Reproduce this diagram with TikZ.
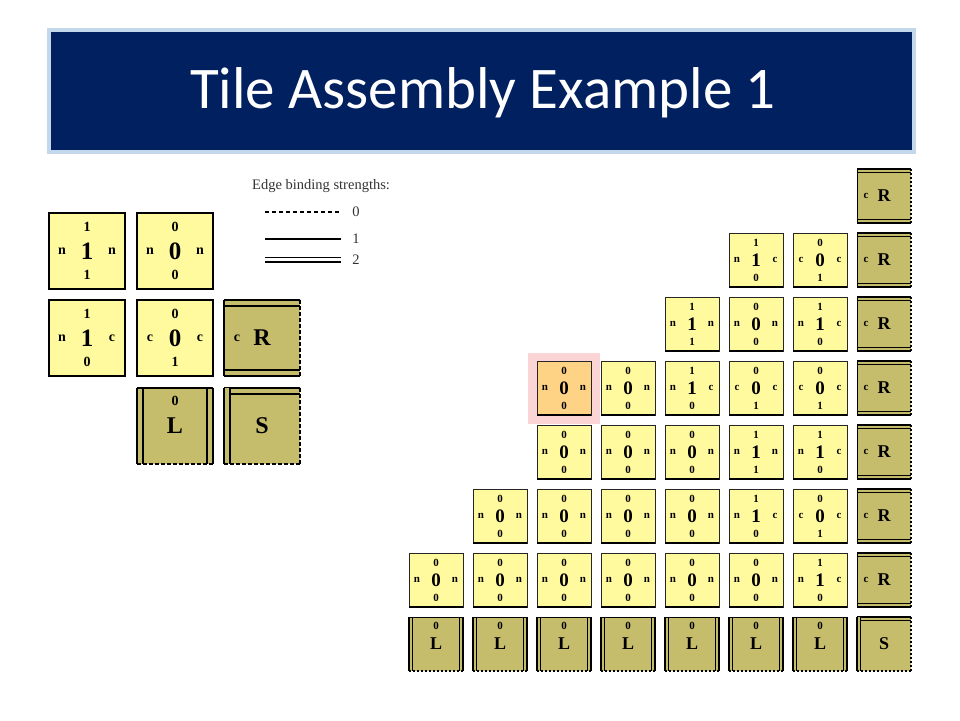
\documentclass[tikz,border=0pt]{standalone}
\usepackage{fontspec}
\setmainfont{Liberation Serif}
\newfontfamily\titlefont{Carlito}
\usetikzlibrary{calc}

\definecolor{navy}{HTML}{002060}
\definecolor{glow}{HTML}{C3D8EA}
\definecolor{tileyellow}{HTML}{FFFA9E}
\definecolor{seedolive}{HTML}{C5BD6C}
\definecolor{hiorange}{HTML}{FFD386}
\definecolor{hipink}{HTML}{FBD5D5}

\tikzset{
  bigtile/.style={minimum size=76pt, inner sep=0pt, outer sep=0pt, fill=tileyellow,
    draw, line width=2.4pt, font=\fontsize{25}{25}\selectfont\bfseries},
  bigseed/.style={minimum size=76pt, inner sep=0pt, outer sep=0pt, fill=seedolive,
    font=\fontsize{24}{24}\selectfont\bfseries},
  biglab/.style={inner sep=0pt, font=\fontsize{14}{14}\selectfont\bfseries},
  smalltile/.style={minimum size=54pt, inner sep=0pt, outer sep=0pt, fill=tileyellow,
    draw=black!85, line width=0.9pt, font=\fontsize{19}{19}\selectfont\bfseries},
  smallseed/.style={minimum size=54pt, inner sep=0pt, outer sep=0pt, fill=seedolive,
    font=\fontsize{18}{18}\selectfont\bfseries},
  smalllab/.style={inner sep=0pt, font=\fontsize{11}{11}\selectfont\bfseries},
  leglab/.style={inner sep=0pt, text=black!80, font=\fontsize{14.5}{14.5}\selectfont},
  strong/.style={line width=2.4pt},
  weak/.style={line width=2.4pt, dash pattern=on 3.5pt off 2.5pt},
  dbl/.style={double=seedolive, double distance=3.6pt, line width=2.4pt},
  sstrong/.style={line width=0.9pt},
  sweak/.style={line width=1.4pt, dash pattern=on 2pt off 2pt},
  sdbl/.style={double=seedolive, double distance=2.4pt, line width=1.3pt},
}

\begin{document}
\begin{tikzpicture}[x=1pt,y=-1pt]
  \useasboundingbox (0,0) rectangle (960,720);
  % title bar
  \node[fill=navy, draw=glow, line width=4pt, minimum width=865pt, minimum height=122pt,
    inner sep=0pt, anchor=north west] (bar) at (47,28) {};
  \node[anchor=base, text=white, font=\titlefont\fontsize{59}{59}\selectfont] %
    (title) at (483,108) {Tile Assembly Example 1};

  % tile set
  \foreach \nm/\x/\y/\tp/\lf/\rt/\bt in {one/87/251/1/n/n/1, zero/175/251/0/n/n/0,
      onec/87/338/1/n/c/0, zeroc/175/338/0/c/c/1}{
    \node[bigtile] (\nm) at (\x,\y) {\tp};
    \node[biglab] (\nm-t) at ([yshift=-14pt]\nm.north) {\tp};
    \node[biglab] (\nm-l) at ([xshift=13pt]\nm.west) {\lf};
    \node[biglab] (\nm-r) at ([xshift=-13pt]\nm.east) {\rt};
    \node[biglab] (\nm-b) at ([yshift=14pt]\nm.south) {\bt};
  }
  \node[bigseed] (R) at (262,338) {R};
  \node[biglab] (R-l) at ([xshift=13pt]R.west) {c};
  \draw[dbl] ([yshift=-3pt]R.north west) -- ([yshift=-3pt]R.north east);
  \draw[dbl] ([yshift=3pt]R.south west) -- ([yshift=3pt]R.south east);
  \draw[strong] (R.north west) -- (R.south west);
  \draw[weak] (R.north east) -- (R.south east);

  \node[bigseed] (L) at (175,426) {L};
  \node[biglab] (L-t) at ([yshift=-13pt]L.north) {0};
  \draw[dbl] ([xshift=3pt]L.north west) -- ([xshift=3pt]L.south west);
  \draw[dbl] ([xshift=-3pt]L.north east) -- ([xshift=-3pt]L.south east);
  \draw[strong] (L.north west) -- (L.north east);
  \draw[weak] (L.south west) -- (L.south east);

  \node[bigseed] (S) at (262,426) {S};
  \draw[dbl] ([yshift=-3pt]S.north west) -- ([yshift=-3pt]S.north east);
  \draw[dbl] ([xshift=3pt]S.north west) -- ([xshift=3pt]S.south west);
  \draw[weak] (S.north east) -- (S.south east);
  \draw[weak] (S.south west) -- (S.south east);

  % legend
  \node[leglab, anchor=west] (legend) at (252,186) {Edge binding strengths:};
  \node[leglab] (s0) at (356,212) {0};
  \node[leglab] (s1) at (356,239) {1};
  \node[leglab] (s2) at (356,260) {2};
  \draw[line width=1.4pt, dash pattern=on 4pt off 3pt] (265,212) -- (341,212);
  \draw[line width=1.6pt] (265,239) -- (341,239);
  \draw[double=white, double distance=3pt, line width=1.5pt] (265,259.5) -- (341,259.5);

  % assembly
  \node[fill=hipink, minimum width=72pt, minimum height=71pt, inner sep=0pt] (hl) at (564,388) {};
  \foreach \col/\row/\tp/\lf/\rt/\bt in {5/1/1/n/c/0, 6/1/0/c/c/1,
      4/2/1/n/n/1, 5/2/0/n/n/0, 6/2/1/n/c/0,
      3/3/0/n/n/0, 4/3/1/n/c/0, 5/3/0/c/c/1, 6/3/0/c/c/1,
      2/4/0/n/n/0, 3/4/0/n/n/0, 4/4/0/n/n/0, 5/4/1/n/n/1, 6/4/1/n/c/0,
      1/5/0/n/n/0, 2/5/0/n/n/0, 3/5/0/n/n/0, 4/5/0/n/n/0, 5/5/1/n/c/0, 6/5/0/c/c/1,
      0/6/0/n/n/0, 1/6/0/n/n/0, 2/6/0/n/n/0, 3/6/0/n/n/0, 4/6/0/n/n/0, 5/6/0/n/n/0,
      6/6/1/n/c/0}{
    \node[smalltile] (g\col\row) at ({436+64*\col},{196+64*\row}) {\tp};
    \node[smalllab] (g\col\row-t) at ([yshift=-10pt]g\col\row.north) {\tp};
    \node[smalllab] (g\col\row-l) at ([xshift=8pt]g\col\row.west) {\lf};
    \node[smalllab] (g\col\row-r) at ([xshift=-8pt]g\col\row.east) {\rt};
    \node[smalllab] (g\col\row-b) at ([yshift=9pt]g\col\row.south) {\bt};
    \draw[line width=2pt] (g\col\row.south west) -- (g\col\row.south east);
  }
  \node[smalltile, fill=hiorange] (g23) at (564,388) {0};
  \node[smalllab] (g23-t) at ([yshift=-10pt]g23.north) {0};
  \node[smalllab] (g23-l) at ([xshift=8pt]g23.west) {n};
  \node[smalllab] (g23-r) at ([xshift=-8pt]g23.east) {n};
  \node[smalllab] (g23-b) at ([yshift=9pt]g23.south) {0};
  \draw[line width=2pt] (g23.south west) -- (g23.south east);

  \foreach \row in {0,...,6}{
    \node[smallseed] (R\row) at (884,{196+64*\row}) {R};
    \node[smalllab] (R\row-l) at ([xshift=9pt]R\row.west) {c};
    \draw[sdbl] ([yshift=-1.9pt]R\row.north west) -- ([yshift=-1.9pt]R\row.north east);
    \draw[sdbl] ([yshift=1.9pt]R\row.south west) -- ([yshift=1.9pt]R\row.south east);
    \draw[sstrong] (R\row.north west) -- (R\row.south west);
    \draw[sweak] (R\row.north east) -- (R\row.south east);
  }
  \foreach \col in {0,...,6}{
    \node[smallseed] (L\col) at ({436+64*\col},644) {L};
    \node[smalllab] (L\col-t) at ([yshift=-9pt]L\col.north) {0};
    \draw[sdbl] ([xshift=1.9pt]L\col.north west) -- ([xshift=1.9pt]L\col.south west);
    \draw[sdbl] ([xshift=-1.9pt]L\col.north east) -- ([xshift=-1.9pt]L\col.south east);
    \draw[sstrong] (L\col.north west) -- (L\col.north east);
    \draw[sweak] (L\col.south west) -- (L\col.south east);
  }
  \node[smallseed] (S7) at (884,644) {S};
  \draw[sdbl] ([yshift=-1.9pt]S7.north west) -- ([yshift=-1.9pt]S7.north east);
  \draw[sdbl] ([xshift=1.9pt]S7.north west) -- ([xshift=1.9pt]S7.south west);
  \draw[sweak] (S7.north east) -- (S7.south east);
  \draw[sweak] (S7.south west) -- (S7.south east);
\end{tikzpicture}
\end{document}
